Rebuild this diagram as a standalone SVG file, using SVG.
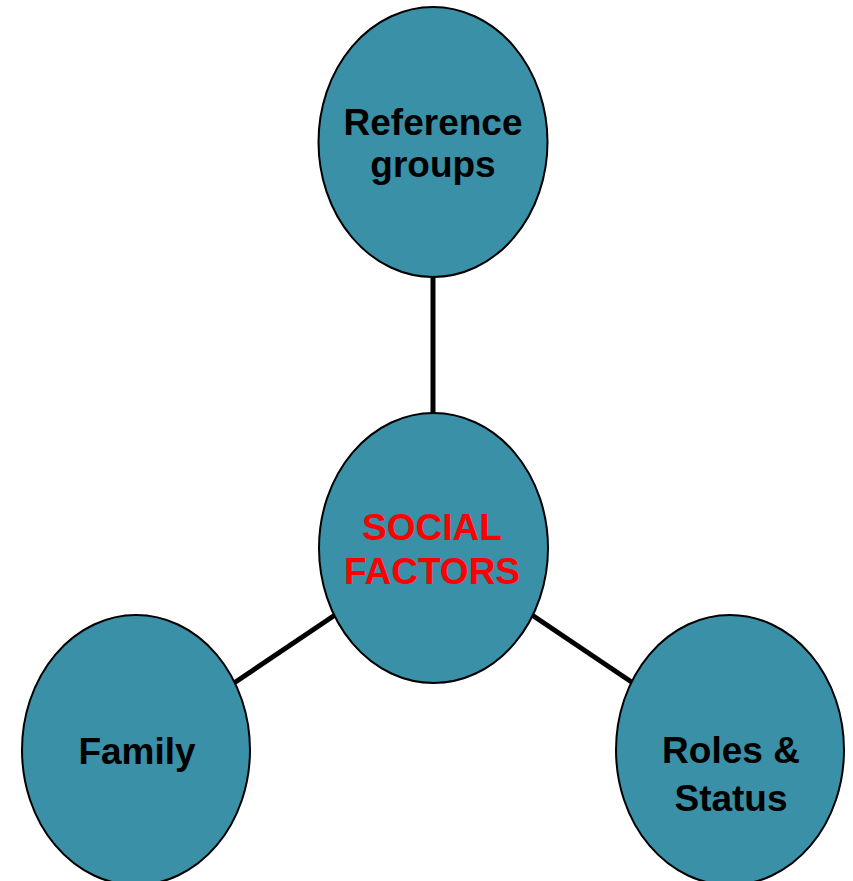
<svg xmlns="http://www.w3.org/2000/svg" width="853" height="881" viewBox="0 0 853 881">
  <style>
    .node { fill: #3A90A7; stroke: #000000; stroke-width: 2; }
    .label { font-family: "Liberation Sans", Arial, sans-serif; font-weight: bold; font-size: 37px; text-anchor: middle; fill: #000000; }
    .hub { fill: #FF0000; }
    .link { stroke: #000000; stroke-width: 5; fill: none; }
  </style>
  <rect width="853" height="881" fill="#FFFFFF"/>
  <g id="connectors">
    <line class="link" x1="433" y1="276" x2="433" y2="414"/>
    <line class="link" x1="234" y1="683" x2="335" y2="615"/>
    <line class="link" x1="532" y1="615" x2="633" y2="683"/>
  </g>
  <g id="reference-groups">
    <ellipse class="node" cx="433" cy="142" rx="114.5" ry="135"/>
    <text class="label" x="433" y="135">Reference</text>
    <text class="label" x="433" y="177">groups</text>
  </g>
  <g id="social-factors">
    <ellipse class="node" cx="433.5" cy="548" rx="114.5" ry="135"/>
    <text class="label hub" x="432" y="540">SOCIAL</text>
    <text class="label hub" x="432" y="584">FACTORS</text>
  </g>
  <g id="family">
    <ellipse class="node" cx="136" cy="750" rx="114" ry="135"/>
    <text class="label" x="137" y="764">Family</text>
  </g>
  <g id="roles-status">
    <ellipse class="node" cx="730" cy="750" rx="114" ry="135"/>
    <text class="label" x="731" y="763">Roles &amp;</text>
    <text class="label" x="731" y="811">Status</text>
  </g>
</svg>
